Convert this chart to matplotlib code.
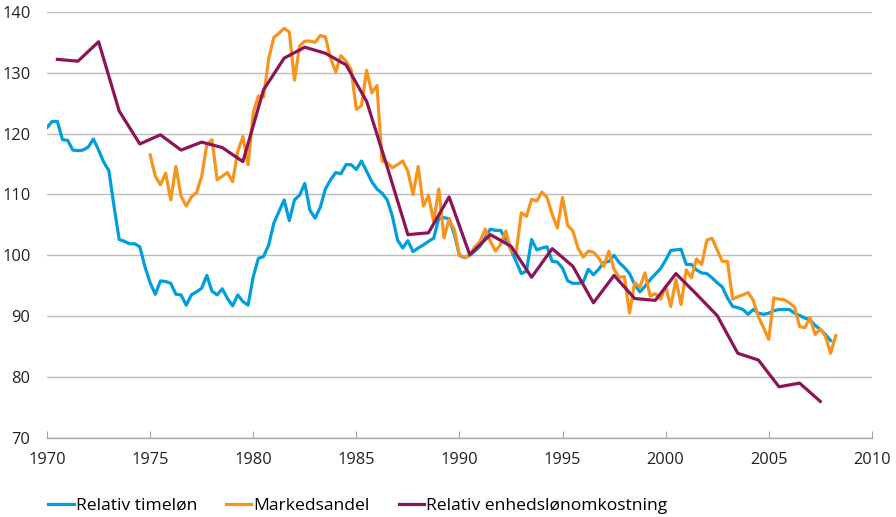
import matplotlib
matplotlib.use("Agg")
import matplotlib.pyplot as plt
import numpy as np

# quarterly series, first value in 1970Q1 (timeløn) and 1975Q1 (markedsandel)
timelon = [
    121.0, 122.0, 122.0, 119.0, 118.9, 117.3, 117.2, 117.3,   # 1970-71
    117.8, 119.1, 117.3, 115.3, 113.9, 108.0, 102.6, 102.3,   # 1972-73
    101.9, 101.9, 101.4, 98.1, 95.5, 93.6, 95.8, 95.7,        # 1974-75
    95.4, 93.6, 93.5, 91.8, 93.5, 94.0, 94.6, 96.7,           # 1976-77
    94.1, 93.5, 94.5, 92.9, 91.7, 93.5, 92.4, 91.8,           # 1978-79
    96.5, 99.5, 99.8, 101.7, 105.3, 107.2, 109.1, 105.7,      # 1980-81
    109.1, 109.9, 111.8, 107.4, 106.1, 107.9, 110.9, 112.4,   # 1982-83
    113.6, 113.4, 114.9, 114.9, 114.1, 115.5, 113.8, 112.1,   # 1984-85
    110.9, 110.2, 109.1, 106.4, 102.5, 101.2, 102.4, 100.6,   # 1986-87
    101.2, 101.7, 102.3, 102.8, 106.1, 106.2, 106.0, 103.5,   # 1988-89
    100.0, 99.6, 100.0, 100.7, 101.5, 102.9, 104.3, 104.1,    # 1990-91
    104.1, 102.6, 100.9, 99.0, 97.0, 97.4, 102.6, 100.9,      # 1992-93
    101.2, 101.4, 99.0, 98.9, 97.9, 95.8, 95.4, 95.4,         # 1994-95
    95.6, 97.7, 96.8, 97.7, 98.8, 99.0, 100.0, 98.8,          # 1996-97
    98.0, 97.0, 95.2, 94.0, 94.9, 96.0, 96.9, 97.8,           # 1998-99
    99.2, 100.8, 100.9, 101.0, 98.5, 98.5, 97.6, 97.1,        # 2000-01
    97.0, 96.3, 95.5, 94.8, 93.0, 91.6, 91.4, 91.1,           # 2002-03
    90.3, 91.1, 90.5, 90.3, 90.5, 90.9, 91.1, 91.1,           # 2004-05
    91.1, 90.5, 90.1, 89.7, 89.4, 88.5, 87.8, 87.0,           # 2006-07
    86.0,                                                     # 2008
]

markedsandel = [
    116.5, 113.0, 111.6, 113.5, 109.1, 114.6, 109.7, 108.1,   # 1975-76
    109.6, 110.3, 113.0, 118.2, 119.0, 112.4, 113.0, 113.6,   # 1977-78
    112.1, 117.1, 119.5, 114.9, 123.4, 126.2, 126.0, 132.3,   # 1979-80
    135.8, 136.5, 137.3, 136.7, 128.8, 134.4, 135.2, 135.2,   # 1981-82
    135.0, 136.1, 135.9, 132.4, 130.1, 132.8, 131.9, 130.5,   # 1983-84
    124.0, 124.6, 130.4, 126.7, 127.9, 115.5, 115.2, 114.4,   # 1985-86
    114.9, 115.5, 113.8, 110.0, 114.6, 108.1, 109.8, 105.6,   # 1987-88
    110.9, 102.9, 105.9, 104.2, 100.0, 99.7, 100.0, 101.4,    # 1989-90
    102.3, 104.3, 102.3, 100.7, 101.8, 104.0, 100.7, 100.4,   # 1991-92
    107.0, 106.4, 109.2, 108.9, 110.4, 109.5, 106.7, 104.5,   # 1993-94
    109.5, 104.9, 104.0, 101.2, 99.7, 100.7, 100.5, 99.6,     # 1995-96
    98.2, 100.7, 97.7, 96.4, 96.5, 90.5, 95.5, 94.8,          # 1997-98
    97.1, 93.3, 93.7, 92.8, 94.9, 91.6, 96.0, 91.9,           # 1999-00
    97.6, 96.3, 99.4, 98.5, 102.5, 102.8, 100.9, 99.0,        # 2001-02
    99.0, 92.8, 93.2, 93.5, 93.9, 92.6, 89.9, 88.1,           # 2003-04
    86.2, 93.0, 92.8, 92.7, 92.2, 91.5, 88.3, 88.1,           # 2005-06
    89.7, 87.0, 87.9, 86.7, 83.9, 86.8,                       # 2007-08
]

# annual series 1970-2007, drawn at mid-year
aar = list(range(1970, 2008))
enhedslon = [
    132.2, 131.9, 135.1, 123.7, 118.3, 119.8, 117.3, 118.6, 117.7, 115.4,
    127.2, 132.4, 134.2, 133.2, 131.3, 125.3, 114.5, 103.4, 103.7, 109.6,
    100.1, 103.4, 101.5, 96.4, 101.1, 98.2, 92.2, 96.7, 92.9, 92.6,
    97.0, 93.6, 90.1, 83.9, 82.8, 78.4, 79.0, 76.0,
]

labels = ["Relativ timeløn", "Markedsandel", "Relativ enhedslønomkostning"]
colors = ["#009EDB", "#F7941D", "#8B1556"]

x_timelon = 1970 + np.arange(len(timelon)) / 4.0
x_marked = 1975 + np.arange(len(markedsandel)) / 4.0
x_enhed = np.array(aar) + 0.5

plt.rcParams['font.family'] = ['Open Sans', 'DejaVu Sans']

fig = plt.figure(figsize=(8.96, 5.17), dpi=100)
ax = fig.add_axes([0.0525, 0.153, 0.9205, 0.824])

ax.plot(x_timelon, timelon, color=colors[0], linewidth=2.3, label=labels[0])
ax.plot(x_marked, markedsandel, color=colors[1], linewidth=2.3, label=labels[1])
ax.plot(x_enhed, enhedslon, color=colors[2], linewidth=2.3, label=labels[2])

ax.set_xlim(1970, 2010)
ax.set_ylim(70, 140)
ax.set_xticks(range(1970, 2011, 5))
ax.set_yticks(range(70, 141, 10))
ax.grid(axis='y', color='#BDBDBD', linewidth=1.0)
ax.set_axisbelow(True)
for side in ['top', 'right', 'left']:
    ax.spines[side].set_visible(False)
ax.spines['bottom'].set_color('#A8A8A8')
ax.spines['bottom'].set_linewidth(1.0)
ax.tick_params(axis='x', direction='in', length=5, color='#A8A8A8',
               labelsize=11.8, pad=10, labelcolor='#222222')
ax.tick_params(axis='y', length=0, labelsize=11.8, pad=12, labelcolor='#222222')

fig.legend(loc='center left', bbox_to_anchor=(0.046, 0.022), ncol=3, frameon=False,
           handlelength=1.45, handletextpad=0.12, columnspacing=1.65,
           fontsize=12.6, borderaxespad=0.0)

fig.savefig("out.png", dpi=100)
